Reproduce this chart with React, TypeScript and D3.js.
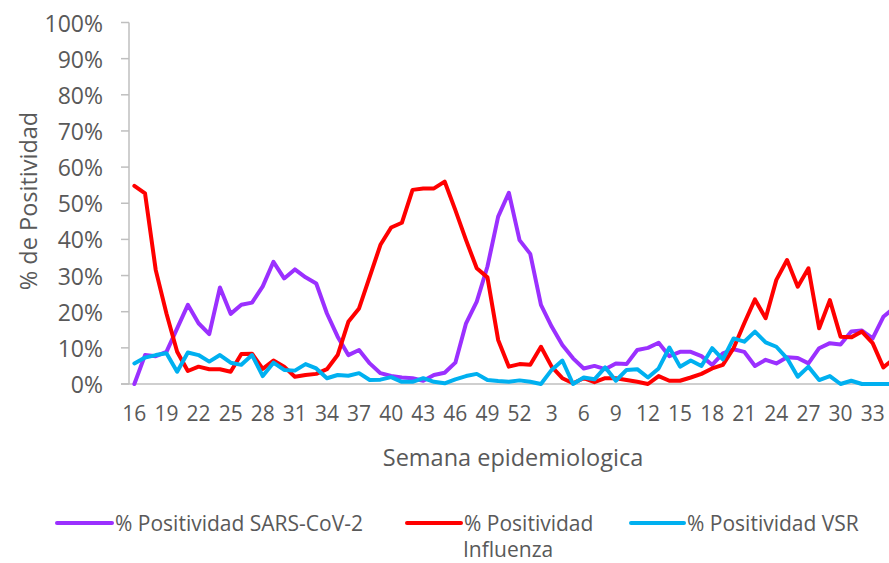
import React from "react";
import * as d3 from "d3";

const weeks: string[] = [
  "16","17","18","19","20","21","22","23","24","25","26","27","28","29","30","31","32","33","34","35","36","37","38","39","40","41","42","43","44","45","46","47","48","49","50","51","52",
  "1","2","3","4","5","6","7","8","9","10","11","12","13","14","15","16","17","18","19","20","21","22","23","24","25","26","27","28","29","30","31","32","33","34","35",
];

const sarsCov2: number[] = [
  0, 8.0, 7.7, 8.9, 15.4, 21.9, 16.8, 13.8, 26.7, 19.4, 21.9, 22.5, 27.0, 33.8, 29.2, 31.7, 29.5, 27.8, 19.5, 13.1, 8.0, 9.4, 5.7, 3.0, 2.2, 1.8, 1.6, 0.9, 2.5, 3.1, 5.9, 16.8, 22.8, 32.5, 46.3, 52.9, 39.8,
  36.0, 21.9, 15.9, 10.8, 7.1, 4.3, 5.0, 4.1, 5.7, 5.5, 9.4, 10.0, 11.4, 7.7, 8.9, 8.9, 7.7, 5.3, 8.5, 9.6, 8.9, 5.0, 6.7, 5.7, 7.4, 7.2, 5.7, 9.9, 11.3, 10.9, 14.5, 14.8, 12.6, 18.6, 21.0,
];

const influenza: number[] = [
  54.8, 52.7, 31.5, 19.5, 8.9, 3.6, 4.8, 4.1, 4.1, 3.4, 8.3, 8.4, 4.2, 6.5, 4.8, 2.0, 2.5, 2.8, 4.1, 8.0, 17.2, 20.9, 29.7, 38.5, 43.3, 44.6, 53.7, 54.1, 54.1, 56.0, 48.1, 39.8, 32.0, 29.5, 12.2, 4.8, 5.5,
  5.3, 10.3, 4.8, 1.6, 0.2, 1.6, 0.5, 1.6, 1.6, 1.1, 0.6, 0.0, 2.2, 0.9, 0.9, 1.8, 2.8, 4.3, 5.3, 9.9, 16.8, 23.4, 18.2, 28.8, 34.3, 26.9, 32.0, 15.4, 23.2, 13.1, 12.9, 14.5, 11.3, 4.6, 7.0,
];

const vsr: number[] = [
  5.7, 7.3, 8.0, 8.5, 3.4, 8.7, 8.0, 6.2, 8.0, 5.9, 5.3, 8.0, 2.2, 5.9, 3.9, 3.7, 5.5, 4.3, 1.6, 2.5, 2.3, 3.0, 1.1, 1.2, 1.9, 0.6, 0.6, 1.6, 0.6, 0.2, 1.3, 2.2, 2.8, 1.1, 0.8, 0.6, 1.0,
  0.6, 0.0, 3.9, 6.5, 0.0, 1.8, 1.3, 4.6, 0.9, 3.9, 4.1, 1.8, 4.3, 10.1, 4.8, 6.5, 5.0, 9.9, 6.8, 12.6, 11.7, 14.5, 11.5, 10.3, 7.1, 2.0, 4.8, 1.1, 2.2, 0.0, 0.9, 0.0, 0.0, 0.0, 0.0,
];

const yTicks: number[] = [0, 10, 20, 30, 40, 50, 60, 70, 80, 90, 100];

const seriesNames: string[] = ["% Positividad SARS-CoV-2", "% Positividad Influenza", "% Positividad VSR"];
const seriesColors: string[] = ["#9B30FF", "#FF0000", "#00B0F0"];

const W = 889;
const H = 563;
const plotLeft = 129;
const plotTop = 22.5;
const plotBottom = 384;
const step = 10.7;
const font = "'Open Sans', 'Noto Sans', sans-serif";
const textColor = "#595959";
const axisColor = "#BFBFBF";

export default function App() {
  const keys = weeks.map((_, i) => String(i));
  const x = d3
    .scalePoint<string>()
    .domain(keys)
    .range([plotLeft, plotLeft + weeks.length * step])
    .padding(0.5);
  const y = d3.scaleLinear().domain([0, 100]).range([plotBottom, plotTop]);

  const line = d3
    .line<number>()
    .x((_, i) => x(String(i)) as number)
    .y((d) => y(d));

  const allSeries = [sarsCov2, influenza, vsr];

  return (
    <svg
      width={W}
      height={H}
      style={{ position: "absolute", left: 0, top: 0, background: "#fff" }}
      fontFamily={font}
    >
      {/* y axis */}
      <line x1={plotLeft} x2={plotLeft} y1={plotTop} y2={plotBottom} stroke={axisColor} strokeWidth={1.5} />
      {yTicks.map((t) => (
        <g key={t}>
          <line x1={plotLeft - 8} x2={plotLeft} y1={y(t)} y2={y(t)} stroke={axisColor} strokeWidth={1.5} />
          <text
            x={103}
            y={y(t)}
            textAnchor="end"
            dominantBaseline="central"
            fontSize={23}
            fill={textColor}
          >
            {t}%
          </text>
        </g>
      ))}
      {/* x axis */}
      <line x1={plotLeft - 8} x2={W} y1={plotBottom} y2={plotBottom} stroke={axisColor} strokeWidth={1.5} />
      {weeks.map((w, i) =>
        i % 3 === 0 ? (
          <text
            key={i}
            x={x(String(i)) as number}
            y={413}
            textAnchor="middle"
            dominantBaseline="central"
            fontSize={21}
            fill={textColor}
          >
            {w}
          </text>
        ) : null
      )}
      {/* axis titles */}
      <text
        transform={`translate(28,201) rotate(-90)`}
        textAnchor="middle"
        dominantBaseline="central"
        fontSize={23.5}
        fill={textColor}
      >
        % de Positividad
      </text>
      <text x={513} y={457} textAnchor="middle" dominantBaseline="central" fontSize={23.5} fill={textColor}>
        Semana epidemiologica
      </text>
      {/* series */}
      {allSeries.map((s, k) => (
        <path
          key={k}
          d={line(s) as string}
          fill="none"
          stroke={seriesColors[k]}
          strokeWidth={4}
          strokeLinejoin="round"
          strokeLinecap="round"
        />
      ))}
      {/* legend */}
      <g>
        <line x1={57} x2={112} y1={523} y2={523} stroke={seriesColors[0]} strokeWidth={4} strokeLinecap="round" />
        <text x={115} y={523} dominantBaseline="central" fontSize={21} fill={textColor}>
          {seriesNames[0]}
        </text>
        <line x1={407} x2={461} y1={523} y2={523} stroke={seriesColors[1]} strokeWidth={4} strokeLinecap="round" />
        <text x={464} y={523} dominantBaseline="central" fontSize={21} fill={textColor}>
          % Positividad
        </text>
        <text x={463} y={549} dominantBaseline="central" fontSize={21} fill={textColor}>
          Influenza
        </text>
        <line x1={631} x2={684} y1={523} y2={523} stroke={seriesColors[2]} strokeWidth={4} strokeLinecap="round" />
        <text x={687} y={523} dominantBaseline="central" fontSize={21} fill={textColor}>
          {seriesNames[2]}
        </text>
      </g>
    </svg>
  );
}
